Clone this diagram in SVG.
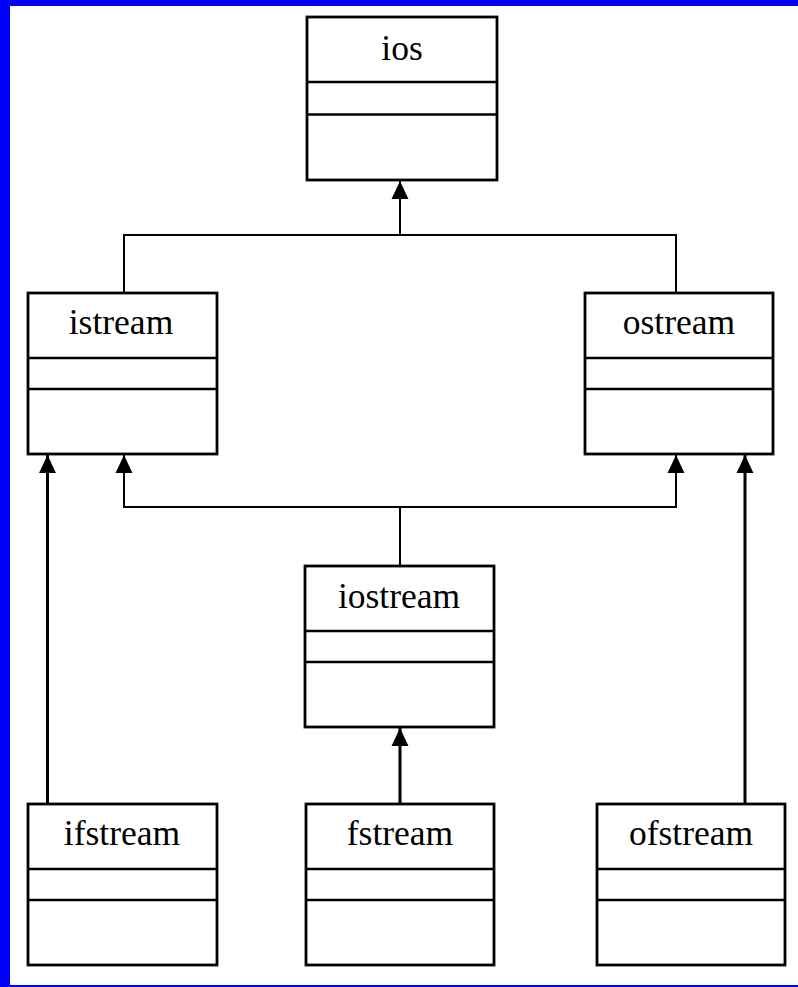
<svg xmlns="http://www.w3.org/2000/svg" width="798" height="987" viewBox="0 0 798 987">
<style>
.box{fill:#fff;stroke:#000;stroke-width:2.8}
.div{stroke:#000;stroke-width:2.4}
.lbl{font-family:"Liberation Serif","Times New Roman",serif;font-size:35.5px;fill:#000;text-anchor:middle}
.thin{fill:none;stroke:#000;stroke-width:2}
.thick{fill:none;stroke:#000;stroke-width:3}
</style>
<defs>
<marker id="tri" markerUnits="userSpaceOnUse" markerWidth="18" markerHeight="18" viewBox="0 0 17 16" refX="17" refY="8" orient="auto">
<path d="M0,0 L17,8 L0,16 Z" fill="#000"/>
</marker>
</defs>
<rect x="0" y="0" width="798" height="987" fill="#fff"/>
<rect x="0" y="0" width="798" height="6" fill="#0000ff"/>
<rect x="0" y="0" width="10" height="987" fill="#0000ff"/>
<rect x="0" y="985" width="798" height="2" fill="#0000ff"/>

<g id="connectors">
<polyline class="thin" points="124,293 124,235 676,235 676,293"/>
<line class="thin" x1="400" y1="235" x2="400" y2="181" marker-end="url(#tri)"/>
<line class="thin" x1="400" y1="566" x2="400" y2="507"/>
<polyline class="thin" points="676,455 676,507 124,507 124,455" marker-end="url(#tri)"/>
<line class="thin" x1="676" y1="507" x2="676" y2="455" marker-end="url(#tri)"/>
<line class="thick" x1="47.5" y1="804" x2="47.5" y2="455" marker-end="url(#tri)"/>
<line class="thick" x1="745" y1="804" x2="745" y2="455" marker-end="url(#tri)"/>
<line class="thick" x1="400" y1="804" x2="400" y2="728" marker-end="url(#tri)"/>
</g>

<g id="ios">
<rect class="box" x="307" y="17" width="190" height="163"/>
<line class="div" x1="307" y1="82" x2="497" y2="82"/>
<line class="div" x1="307" y1="114.5" x2="497" y2="114.5"/>
<text class="lbl" x="402" y="60">ios</text>
</g>
<g id="istream">
<rect class="box" x="28" y="293" width="189" height="161"/>
<line class="div" x1="28" y1="358" x2="217" y2="358"/>
<line class="div" x1="28" y1="389" x2="217" y2="389"/>
<text class="lbl" x="121" y="334">istream</text>
</g>
<g id="ostream">
<rect class="box" x="585" y="293" width="188" height="161"/>
<line class="div" x1="585" y1="358" x2="773" y2="358"/>
<line class="div" x1="585" y1="389" x2="773" y2="389"/>
<text class="lbl" x="679" y="334">ostream</text>
</g>
<g id="iostream">
<rect class="box" x="305" y="566" width="189" height="161"/>
<line class="div" x1="305" y1="631" x2="494" y2="631"/>
<line class="div" x1="305" y1="662" x2="494" y2="662"/>
<text class="lbl" x="399" y="608">iostream</text>
</g>
<g id="ifstream">
<rect class="box" x="28" y="804" width="189" height="161"/>
<line class="div" x1="28" y1="869" x2="217" y2="869"/>
<line class="div" x1="28" y1="900" x2="217" y2="900"/>
<text class="lbl" x="122" y="845">ifstream</text>
</g>
<g id="fstream">
<rect class="box" x="306" y="804" width="188" height="161"/>
<line class="div" x1="306" y1="869" x2="494" y2="869"/>
<line class="div" x1="306" y1="900" x2="494" y2="900"/>
<text class="lbl" x="400" y="845">fstream</text>
</g>
<g id="ofstream">
<rect class="box" x="597" y="804" width="188" height="161"/>
<line class="div" x1="597" y1="869" x2="785" y2="869"/>
<line class="div" x1="597" y1="900" x2="785" y2="900"/>
<text class="lbl" x="691" y="845">ofstream</text>
</g>
</svg>
